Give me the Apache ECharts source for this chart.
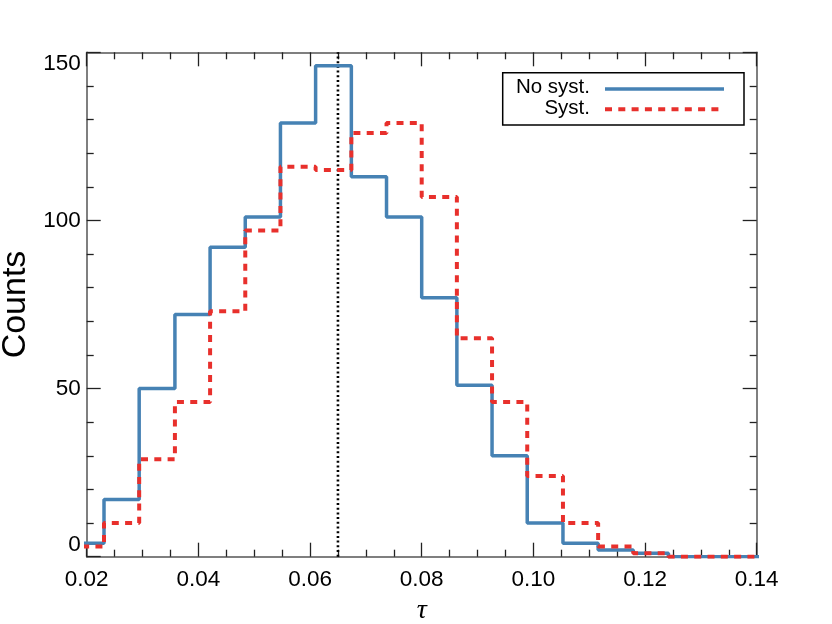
<!DOCTYPE html>
<html>
<head>
<meta charset="utf-8">
<script src="https://cdn.jsdelivr.net/npm/echarts@6/dist/echarts.min.js"></script>
<style>html,body{margin:0;padding:0;background:#fff}#c{width:832px;height:624px}</style>
</head>
<body>
<div id="c"></div>
<script>
// Histogram bin edges (tau)
var binEdges = [0.0168, 0.0231, 0.0294, 0.0358, 0.0421, 0.0484, 0.0547, 0.0610, 0.0674, 0.0737,
                0.0800, 0.0863, 0.0926, 0.0989, 0.1053, 0.1116, 0.1179, 0.1242, 0.1305, 0.1368, 0.1431];
// Counts per bin
var countsNoSyst = [4, 17, 50, 72, 92, 101, 129, 146, 113, 101, 77, 51, 30, 10, 4, 2, 1, 0, 0, 0];
var countsSyst   = [3, 10, 29, 46, 73, 97, 116, 115, 126, 129, 107, 65, 46, 24, 10, 3, 1, 0, 0, 0];
var refTau = 0.065;
var xTickLabels = ['0.02', '0.04', '0.06', '0.08', '0.10', '0.12', '0.14'];
var yTickLabels = ['0', '50', '100', '150'];
var seriesNames = ['No syst.', 'Syst.'];
var yRange = [0, 150];

function stepData(edges, counts) {
  var d = [];
  for (var i = 0; i < counts.length; i++) d.push([edges[i], counts[i]]);
  d.push([edges[counts.length], counts[counts.length - 1]]);
  return d;
}

var FONT = 'Liberation Sans';
var BLUE = '#4682b4', RED = '#e8302c';
var axisLineStyle = { color: '#555', width: 1.5 };
var tickStyle = { color: '#222', width: 1.3 };

function xAx(pos, labels) {
  return {
    type: 'value', position: pos, min: 0.02, max: 0.14, interval: 0.02,
    axisLine: { show: true, onZero: false, lineStyle: axisLineStyle },
    axisTick: { show: true, inside: true, length: 14, lineStyle: tickStyle },
    minorTick: { show: true, splitNumber: 4, length: 7, lineStyle: tickStyle },
    splitLine: { show: false },
    axisLabel: labels ? {
      show: true, margin: 12, fontSize: 22.5, fontFamily: FONT, color: '#000',
      formatter: function (v) { var i = Math.round((v - 0.02) / 0.02); return xTickLabels[i]; }
    } : { show: false },
    name: labels ? 'τ' : '', nameLocation: 'middle', nameGap: 23,
    nameTextStyle: { fontSize: 28, fontFamily: 'Liberation Serif', fontStyle: 'italic', color: '#000' }
  };
}
function yAx(pos, labels) {
  return {
    type: 'value', position: pos, min: yRange[0], max: yRange[1], interval: 50,
    axisLine: { show: true, onZero: false, lineStyle: axisLineStyle },
    axisTick: { show: true, inside: true, length: 14, lineStyle: tickStyle },
    minorTick: { show: true, splitNumber: 5, length: 7, lineStyle: tickStyle },
    splitLine: { show: false },
    axisLabel: labels ? {
      show: true, margin: 6, fontSize: 22.5, fontFamily: FONT, color: '#000',
      verticalAlignMinLabel: 'bottom', verticalAlignMaxLabel: 'top',
      formatter: function (v) { return yTickLabels[Math.round(v / 50)]; }
    } : { show: false },
    name: labels ? 'Counts' : '', nameLocation: 'middle', nameGap: 51,
    nameTextStyle: { fontSize: 34, fontFamily: FONT, color: '#000' }
  };
}

var chart = echarts.init(document.getElementById('c'), null, { renderer: 'canvas' });
chart.setOption({
  animation: false,
  backgroundColor: '#fff',
  grid: { left: 86.7, right: 75.3, top: 52.3, bottom: 67.3, containLabel: false, outerBoundsMode: 'none' },
  xAxis: [xAx('bottom', true), xAx('top', false)],
  yAxis: [yAx('left', true), yAx('right', false)],
  series: [
    {
      name: 'ref', type: 'line', symbol: 'none', silent: true,
      xAxisIndex: 0, yAxisIndex: 0,
      data: [[refTau, yRange[0]], [refTau, yRange[1]]],
      lineStyle: { color: '#000', type: [2, 2.7], width: 2.6 },
      z: 1
    },
    {
      name: seriesNames[0], type: 'line', step: 'end', symbol: 'none',
      xAxisIndex: 0, yAxisIndex: 0,
      data: stepData(binEdges, countsNoSyst),
      lineStyle: { color: BLUE, width: 3.5 },
      z: 2
    },
    {
      name: seriesNames[1], type: 'line', step: 'end', symbol: 'none',
      xAxisIndex: 0, yAxisIndex: 0,
      data: stepData(binEdges, countsSyst),
      lineStyle: { color: RED, width: 4, type: [7, 6.3] },
      z: 3
    }
  ],
  graphic: [
    { type: 'rect', shape: { x: 502.7, y: 72.7, width: 241.3, height: 52.3 },
      style: { fill: '#fff', stroke: '#000', lineWidth: 1.5 }, z: 10 },
    { type: 'text', x: 590, y: 87, z: 11,
      style: { text: seriesNames[0], font: '20.5px "Liberation Sans"', fill: '#000', align: 'right', verticalAlign: 'middle' } },
    { type: 'text', x: 590, y: 108, z: 11,
      style: { text: seriesNames[1], font: '20.5px "Liberation Sans"', fill: '#000', align: 'right', verticalAlign: 'middle' } },
    { type: 'line', shape: { x1: 605, y1: 89, x2: 724, y2: 89 }, z: 11,
      style: { stroke: BLUE, lineWidth: 3.5 } },
    { type: 'line', shape: { x1: 605, y1: 109.3, x2: 724, y2: 109.3 }, z: 11,
      style: { stroke: RED, lineWidth: 4, lineDash: [7, 6.3] } }
  ]
});
</script>
</body>
</html>
